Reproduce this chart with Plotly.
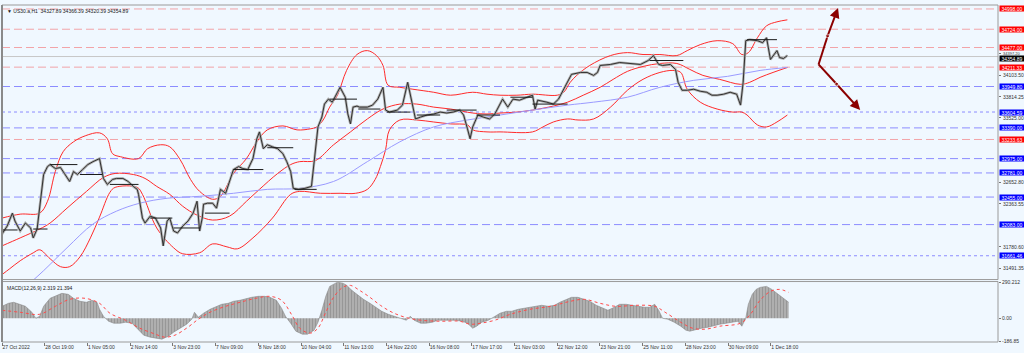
import plotly.graph_objects as go

# ---------------- data (bar index, value) ----------------
close_pts = [(0,31956),(4,32063),(8,32238),(10,32130),(14,31996),(18,32104),(22,32037),(24,31903),(27,32023),(28,32171),
 (30,32492),(32,32760),(35,32867),(37,32894),(41,32841),(45,32854),(48,32774),(52,32666),(55,32800),(58,32760),
 (62,32827),(66,32894),(70,32934),(75,32975),(78,32707),(81,32626),(85,32693),(88,32707),(93,32707),(97,32666),
 (101,32599),(104,32559),(105,32492),(108,32171),(110,32104),(114,32197),(118,32171),(122,32037),(124,31795),(127,32130),
 (129,32171),(132,31996),(135,31970),(139,32063),(143,32130),(147,32238),(150,32398),(152,31996),(154,32171),(155,32358),
 (158,32372),(162,32372),(165,32305),(168,32559),(172,32506),(175,32666),(178,32827),(182,32867),(185,32841),(189,32827),
 (193,32975),(196,33243),(198,33336),(201,33109),(204,33162),(208,33135),(212,33109),(216,33042),(219,32934),(222,32800),
 (224,32573),(228,32559),(233,32573),(238,32599),(241,33068),(243,33403),(246,33537),(248,33712),(251,33779),(254,33738),
 (258,33872),(260,33939),(264,33805),(266,33578),(268,33444),(270,33671),(273,33685),(275,33671),(281,33671),(285,33698),
 (289,33779),(293,33939),(295,33631),(298,33604),(304,33631),(308,33698),(312,34006),(315,33738),(318,33511),(322,33537),
 (327,33564),(332,33578),(337,33604),(342,33591),(347,33604),(352,33631),(355,33564),(358,33377),(360,33243),(362,33403),
 (366,33564),(370,33537),(375,33511),(379,33578),(383,33712),(385,33779),(389,33671),(393,33779),(398,33765),(404,33805),
 (408,33832),(410,33645),(412,33765),(419,33738),(424,33712),(428,33779),(432,33913),(435,34006),(438,34114),(445,34140),
 (450,34140),(455,34100),(458,34140),(460,34234),(468,34248),(475,34274),(483,34261),(491,34248),(497,34301),(501,34368),
 (505,34248),(508,34234),(514,34248),(518,34181),(520,34006),(523,33899),(527,33899),(532,33913),(537,33886),(542,33872),
 (546,33832),(550,33832),(555,33846),(560,33872),(565,33846),(568,33698),(570,34006),(572,34569),(575,34583),(581,34569),
 (585,34542),(588,34609),(591,34315),(593,34368),(596,34435),(598,34341),(601,34328),(604,34368)]

bb_upper = [(0,32171),(14,32224),(29,32238),(35,32398),(41,32800),(47,33068),(55,33202),(64,33283),(75,33323),(81,33243),
 (85,33042),(91,33001),(105,32975),(112,33109),(122,33162),(129,33135),(137,32961),(145,32693),(152,32532),(162,32425),
 (168,32465),(178,32774),(188,32975),(196,33202),(204,33363),(216,33417),(227,33363),(237,33377),(242,33403),(247,33497),
 (252,33671),(258,33832),(265,34167),(273,34382),(281,34435),(288,34368),(293,34234),(297,33966),(306,33939),(316,33913),
 (332,33872),(345,33832),(362,33872),(373,33846),(383,33832),(396,33832),(408,33846),(427,33832),(432,33872),(437,34006),
 (442,34100),(452,34234),(468,34368),(481,34408),(493,34382),(506,34382),(519,34368),(527,34435),(537,34516),(550,34569),
 (562,34529),(569,34382),(574,34408),(581,34609),(588,34770),(596,34824),(604,34851)]

bb_middle = [(0,31795),(14,31903),(29,32023),(37,32104),(50,32305),(65,32532),(78,32720),(87,32774),(101,32760),(110,32707),
 (119,32599),(129,32492),(139,32331),(150,32211),(162,32144),(175,32197),(188,32398),(198,32559),(212,32774),(222,32894),
 (229,32934),(241,32948),(255,33162),(268,33336),(281,33511),(293,33645),(306,33712),(319,33712),(332,33671),(345,33645),
 (362,33591),(373,33578),(383,33591),(396,33604),(408,33631),(424,33685),(435,33738),(447,33832),(460,33939),(470,34046),
 (481,34154),(493,34221),(506,34261),(519,34261),(529,34181),(539,34100),(552,34046),(568,33979),(575,34006),(583,34073),
 (593,34140),(604,34207)]

bb_lower = [(0,31407),(6,31487),(14,31594),(24,31701),(29,31742),(37,31621),(45,31514),(52,31514),(60,31648),(68,31903),
 (75,32184),(83,32519),(87,32586),(104,32586),(108,32492),(119,32037),(132,31769),(139,31688),(152,31702),(162,31822),
 (173,31782),(181,31755),(193,31903),(208,32171),(222,32492),(229,32532),(245,32506),(260,32506),(272,32506),(281,32559),
 (287,32693),(291,32867),(295,33095),(298,33363),(306,33497),(319,33497),(332,33470),(345,33444),(358,33430),(362,33363),
 (373,33336),(383,33336),(408,33336),(416,33403),(424,33470),(435,33511),(443,33497),(455,33511),(468,33671),(481,33899),
 (493,34047),(506,34140),(516,34167),(522,34140),(527,33913),(537,33738),(550,33645),(562,33604),(569,33604),(573,33564),
 (581,33430),(588,33403),(596,33470),(604,33564)]

ma_slow = [(22,31300),(32,31460),(50,31769),(70,32091),(88,32264),(106,32372),(127,32439),(152,32465),(178,32506),(204,32559),
 (229,32573),(255,32666),(281,32934),(306,33202),(332,33403),(358,33497),(383,33564),(408,33631),(435,33698),(455,33738),
 (481,33805),(506,33939),(532,34033),(558,34087),(583,34167),(604,34207)]

# short black range segments: (start bar, end bar, level)
seg_start = [0, 24, 37, 60, 83, 114, 132, 156, 178, 204, 225, 252, 274, 296, 319, 342, 365, 391, 408, 498, 573]
seg_end   = [12, 35, 58, 77, 105, 131, 152, 175, 201, 224, 242, 273, 291, 314, 337, 365, 383, 408, 435, 524, 596]
seg_level = [32010, 32023, 32894, 32760, 32626, 32171, 32037, 32238, 32827, 33122, 32559, 33779, 33645, 33604, 33564,
             33631, 33564, 33805, 33712, 34301, 34583]

macd_hist = [(0,96),(5,120),(9,128),(14,112),(18,96),(23,48),(26,0),(29,16),(32,96),(37,160),(42,184),(46,200),(51,192),
 (55,160),(60,136),(65,128),(69,144),(73,128),(75,72),(78,16),(82,-24),(86,-40),(91,-40),(95,-32),(100,-40),(105,-96),
 (109,-136),(114,-152),(118,-160),(123,-168),(128,-144),(132,-112),(137,-80),(142,-48),(146,-8),(148,48),(151,8),(155,40),
 (160,72),(165,96),(169,112),(174,120),(178,136),(183,144),(188,160),(192,168),(197,176),(202,176),(206,168),(211,144),
 (215,80),(218,16),(222,-40),(226,-104),(231,-128),(235,-128),(240,-96),(243,-32),(246,64),(249,176),(252,256),(255,276),
 (258,290),(262,282),(265,266),(269,224),(274,184),(278,152),(283,120),(288,88),(292,56),(297,32),(302,16),(306,0),
 (311,-16),(314,16),(317,-16),(322,-40),(326,-40),(331,-32),(335,-16),(340,-16),(345,-16),(349,-16),(354,-24),(358,-40),
 (362,-80),(365,-64),(369,-32),(374,-16),(378,8),(383,40),(388,56),(392,56),(397,72),(402,80),(406,88),(411,96),(415,104),
 (420,96),(425,104),(429,128),(434,152),(438,168),(443,168),(448,152),(452,136),(457,104),(462,80),(466,64),(471,88),
 (475,112),(480,112),(485,104),(489,96),(494,88),(498,88),(502,112),(505,64),(508,0),(512,-8),(517,-32),(522,-64),
 (526,-96),(529,-104),(534,-88),(538,-80),(543,-72),(548,-56),(552,-48),(557,-40),(562,-32),(566,-24),(569,-64),(572,0),
 (574,112),(577,192),(580,232),(583,248),(588,256),(592,232),(597,192),(602,152),(605,128)]

macd_signal = [(0,64),(14,48),(29,32),(41,96),(52,152),(64,160),(75,120),(83,40),(95,-16),(106,-80),(118,-128),(125,-152),
 (133,-136),(143,-72),(151,-8),(160,48),(172,96),(183,128),(195,160),(206,176),(215,144),(223,24),(229,-80),(237,-120),
 (243,-80),(249,48),(255,168),(262,248),(268,264),(275,224),(283,168),(291,104),(300,48),(310,8),(322,-16),(337,-24),
 (352,-24),(360,-48),(368,-40),(379,-16),(391,32),(406,72),(422,96),(437,136),(448,152),(460,120),(472,96),(487,104),
 (502,96),(510,48),(522,-32),(531,-80),(541,-88),(552,-64),(568,-40),(575,24),(583,144),(591,216),(598,232),(605,208)]

red_levels = [34998.00, 34724.00, 34477.00, 34211.33, 33233.63]
blue_dash_levels = [33949.80, 33390.00, 32975.00, 32781.00, 32455.00, 32083.00]
blue_dot_levels = [33604.59, 31661.46]
bid_price = 34354.89
axis_ticks = [34397.20, 34103.50, 33814.25, 33525.00, 32652.80, 32363.55, 31780.60, 31491.35]
macd_ticks = [290.212, 0.0, -186.85]
macd_ticktext = ["290.212", "0.00", "-186.85"]

time_labels = ["27 Oct 2022", "28 Oct 19:00", "1 Nov 05:00", "2 Nov 14:00", "3 Nov 23:00", "7 Nov 09:00",
               "8 Nov 18:00", "10 Nov 04:00", "11 Nov 13:00", "14 Nov 22:00", "16 Nov 08:00", "17 Nov 17:00",
               "21 Nov 03:00", "22 Nov 12:00", "23 Nov 21:00", "25 Nov 11:00", "28 Nov 23:00", "30 Nov 09:00",
               "1 Dec 18:00"]
bars_per_label = 32.85

proj_bar = [628, 635, 643]
proj_up = [34248, 34636, 35011]
proj_bar_dn = [628, 642, 660]
proj_down = [34248, 33980, 33631]

header = "US30.a,H1  34327.89 34366.39 34320.39 34354.89"
macd_title = "MACD(12,26,9) 2.319 21.394"

# ---------------- figure ----------------
FONT = "Liberation Sans"
fig = go.Figure()

def xy(pts):
    return [p[0] for p in pts], [p[1] for p in pts]

# Bollinger bands + slow MA
for pts in (bb_upper, bb_middle, bb_lower):
    x, y = xy(pts)
    fig.add_trace(go.Scatter(x=x, y=y, mode="lines", line=dict(color="#ff2a2a", width=1, shape="spline"),
                             xaxis="x", yaxis="y", hoverinfo="skip"))
x, y = xy(ma_slow)
fig.add_trace(go.Scatter(x=x, y=y, mode="lines", line=dict(color="#9a9aff", width=1, shape="spline"),
                         xaxis="x", yaxis="y", hoverinfo="skip"))

# price
x, y = xy(close_pts)
fig.add_trace(go.Scatter(x=x, y=y, mode="lines", line=dict(color="#b0b0b0", width=2.6),
                         xaxis="x", yaxis="y", hoverinfo="skip"))
fig.add_trace(go.Scatter(x=x, y=y, mode="lines", line=dict(color="#303030", width=1.0),
                         xaxis="x", yaxis="y", hoverinfo="skip"))

# range segments
sx, sy = [], []
for a, b, v in zip(seg_start, seg_end, seg_level):
    sx += [a, b, None]
    sy += [v, v, None]
fig.add_trace(go.Scatter(x=sx, y=sy, mode="lines", line=dict(color="#1a1a1a", width=1),
                         xaxis="x", yaxis="y", hoverinfo="skip"))

# projection arrows
fig.add_trace(go.Scatter(x=proj_bar[:2], y=proj_up[:2], mode="lines+markers",
                         line=dict(color="#8b0000", width=2), marker=dict(size=[0, 4], color="#8b0000"),
                         xaxis="x", yaxis="y", hoverinfo="skip"))
fig.add_trace(go.Scatter(x=proj_bar_dn[:2], y=proj_down[:2], mode="lines+markers",
                         line=dict(color="#8b0000", width=2), marker=dict(size=[0, 4], color="#8b0000"),
                         xaxis="x", yaxis="y", hoverinfo="skip"))

# MACD
x, y = xy(macd_hist)
fig.add_trace(go.Scatter(x=x, y=y, mode="lines", fill="tozeroy", fillcolor="#a4a4a4",
                         fillpattern=dict(shape="|", size=3, solidity=0.45, fgcolor="#7a7a7a", bgcolor="#b4b4b4"),
                         line=dict(color="#8a8a8a", width=0.6), xaxis="x2", yaxis="y2", hoverinfo="skip"))
x, y = xy(macd_signal)
fig.add_trace(go.Scatter(x=x, y=y, mode="lines", line=dict(color="#ff4a4a", width=1, dash="dot", shape="spline"),
                         xaxis="x2", yaxis="y2", hoverinfo="skip"))

shapes = []
for v in red_levels:
    shapes.append(dict(type="line", xref="paper", x0=0, x1=1, yref="y", y0=v, y1=v,
                       line=dict(color="#f2a4a8", width=1, dash="8px,4px"), layer="below"))
for v in blue_dash_levels:
    shapes.append(dict(type="line", xref="paper", x0=0, x1=1, yref="y", y0=v, y1=v,
                       line=dict(color="#8c8cff", width=1, dash="8px,4px"), layer="below"))
for v in blue_dot_levels:
    shapes.append(dict(type="line", xref="paper", x0=0, x1=1, yref="y", y0=v, y1=v,
                       line=dict(color="#8c8cff", width=1, dash="dot"), layer="below"))
shapes.append(dict(type="line", xref="paper", x0=0, x1=1, yref="y", y0=bid_price, y1=bid_price,
                   line=dict(color="#c8c8c8", width=1), layer="below"))
# panel frames
shapes.append(dict(type="rect", xref="paper", yref="paper", x0=0, x1=1, y0=0.1853, y1=1,
                   line=dict(color="#9a9a9a", width=1)))
shapes.append(dict(type="rect", xref="paper", yref="paper", x0=0, x1=1, y0=0, y1=0.1794,
                   line=dict(color="#9a9a9a", width=1)))
shapes.append(dict(type="line", xref="paper", yref="paper", x0=0, x1=0, y0=0, y1=1,
                   line=dict(color="#8a8a8a", width=2)))

annotations = []
def label(v, text, bg, shift=0):
    annotations.append(dict(xref="paper", x=1, xanchor="left", xshift=1, yref="y", y=v, yanchor="middle",
                            yshift=shift, text=text, showarrow=False, bgcolor=bg, borderpad=0, width=24, height=5,
                            font=dict(family=FONT, size=5, color="white")))
for v in red_levels:
    label(v, f"{v:.2f}", "#ff0000")
for v in blue_dash_levels + blue_dot_levels:
    label(v, f"{v:.2f}", "#0000ff")
label(bid_price, f"{bid_price:.2f}", "#000000", shift=-2)

# gray price-scale labels (drawn as text so they can sit clear of the coloured boxes)
for v in axis_ticks:
    tight = v > bid_price
    annotations.append(dict(xref="paper", x=1, xanchor="left", xshift=3, yref="y", y=v, yanchor="middle",
                            text=f"{v:.2f}", showarrow=False,
                            font=dict(family=FONT, size=4 if tight else 5, color="#333333")))

annotations.append(dict(xref="paper", yref="paper", x=0, y=1, xanchor="left", yanchor="top", xshift=3, yshift=-1,
                        text="▼ " + header, showarrow=False, font=dict(family=FONT, size=5, color="#202020")))
annotations.append(dict(xref="paper", yref="paper", x=0, y=0.1794, xanchor="left", yanchor="top", xshift=3, yshift=-1,
                        text=macd_title, showarrow=False, font=dict(family=FONT, size=5, color="#202020")))
# arrowheads on projection ends
annotations.append(dict(x=proj_bar[2], y=proj_up[2], ax=proj_bar[1], ay=proj_up[1], xref="x", yref="y",
                        axref="x", ayref="y", text="", showarrow=True, arrowhead=2, arrowsize=1,
                        arrowwidth=2, arrowcolor="#8b0000"))
annotations.append(dict(x=proj_bar_dn[2], y=proj_down[2], ax=proj_bar_dn[1], ay=proj_down[1], xref="x", yref="y",
                        axref="x", ayref="y", text="", showarrow=True, arrowhead=2, arrowsize=1,
                        arrowwidth=2, arrowcolor="#8b0000"))

tickvals = [i * bars_per_label for i in range(len(time_labels))]

fig.update_layout(
    width=1024, height=353,
    margin=dict(l=2, r=26, t=2, b=11),
    paper_bgcolor="#f0f8ff", plot_bgcolor="#f0f8ff",
    showlegend=False,
    font=dict(family=FONT, size=5, color="#333333"),
    shapes=shapes, annotations=annotations,
    xaxis=dict(domain=[0, 1], range=[0, 766], anchor="y", showticklabels=False, showgrid=False,
               zeroline=False, ticks=""),
    yaxis=dict(domain=[0.1853, 1], range=[31339.8, 35051.6], side="right", showgrid=False, zeroline=False,
               tickvals=axis_ticks, ticktext=["" for _ in axis_ticks], ticks="outside", ticklen=2,
               tickcolor="#777"),
    xaxis2=dict(domain=[0, 1], range=[0, 766], anchor="y2", matches="x", showgrid=False, zeroline=False,
                tickvals=tickvals, ticktext=time_labels, ticks="outside", ticklen=3, tickcolor="#777",
                ticklabelposition="outside right", tickfont=dict(family=FONT, size=5, color="#333")),
    yaxis2=dict(domain=[0, 0.1794], range=[-191, 295], side="right", showgrid=False, zeroline=False,
                tickvals=macd_ticks, ticktext=macd_ticktext, ticks="outside", ticklen=2, tickcolor="#777",
                tickfont=dict(family=FONT, size=5, color="#333")),
)

fig.write_html("out.html")
